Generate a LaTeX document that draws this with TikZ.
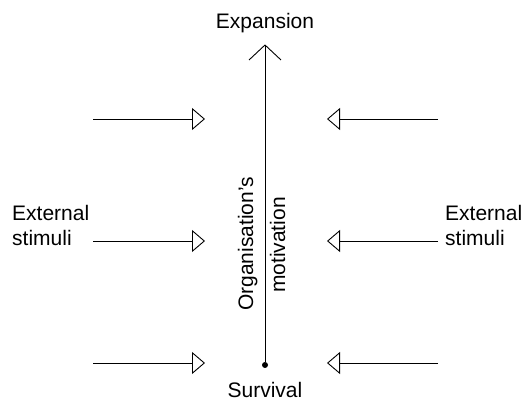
\documentclass[tikz,border=0pt]{standalone}
\usepackage{fontspec}
\setmainfont{Liberation Sans}
\usetikzlibrary{arrows.meta}
\begin{document}
\begin{tikzpicture}[x=1pt,y=1pt,
  lbl/.style={inner sep=0pt, font=\fontsize{21}{25}\selectfont},
  stim/.style={line width=0.9pt, -{Triangle[open, length=13pt, width=22pt]}},
  axis/.style={line width=0.9pt}]
\useasboundingbox (0,0) rectangle (524,401);
% central axis
\node[circle, fill, inner sep=0pt, minimum size=6pt] (dot) at (265,36) {};
\coordinate (top) at (265,356);
\draw[axis] (dot) -- (top);
\draw[axis] (top) -- ++(-16,-15) (top) -- ++(16,-15);
\node[lbl, anchor=base] (exp) at (265,372) {Expansion};
\node[lbl, anchor=base] (surv) at (265,3) {Survival};
\node[lbl, anchor=base, rotate=90] (org) at (253,157) {Organisation’s};
\node[lbl, anchor=base, rotate=90] (mot) at (285,156) {motivation};
% labels
\node[lbl, anchor=north west, align=left] (extL) at (12,196) {External\\stimuli};
\node[lbl, anchor=north west, align=left] (extR) at (445,196) {External\\stimuli};
% left arrows
\coordinate (la1) at (93,282); \coordinate (lb1) at (205,282);
\coordinate (la2) at (93,160); \coordinate (lb2) at (205,160);
\coordinate (la3) at (93,38);  \coordinate (lb3) at (205,38);
\draw[stim] (la1) -- (lb1);
\draw[stim] (la2) -- (lb2);
\draw[stim] (la3) -- (lb3);
% right arrows
\coordinate (ra1) at (438,282); \coordinate (rb1) at (327,282);
\coordinate (ra2) at (438,160); \coordinate (rb2) at (327,160);
\coordinate (ra3) at (438,38);  \coordinate (rb3) at (327,38);
\draw[stim] (ra1) -- (rb1);
\draw[stim] (ra2) -- (rb2);
\draw[stim] (ra3) -- (rb3);
\end{tikzpicture}
\end{document}
